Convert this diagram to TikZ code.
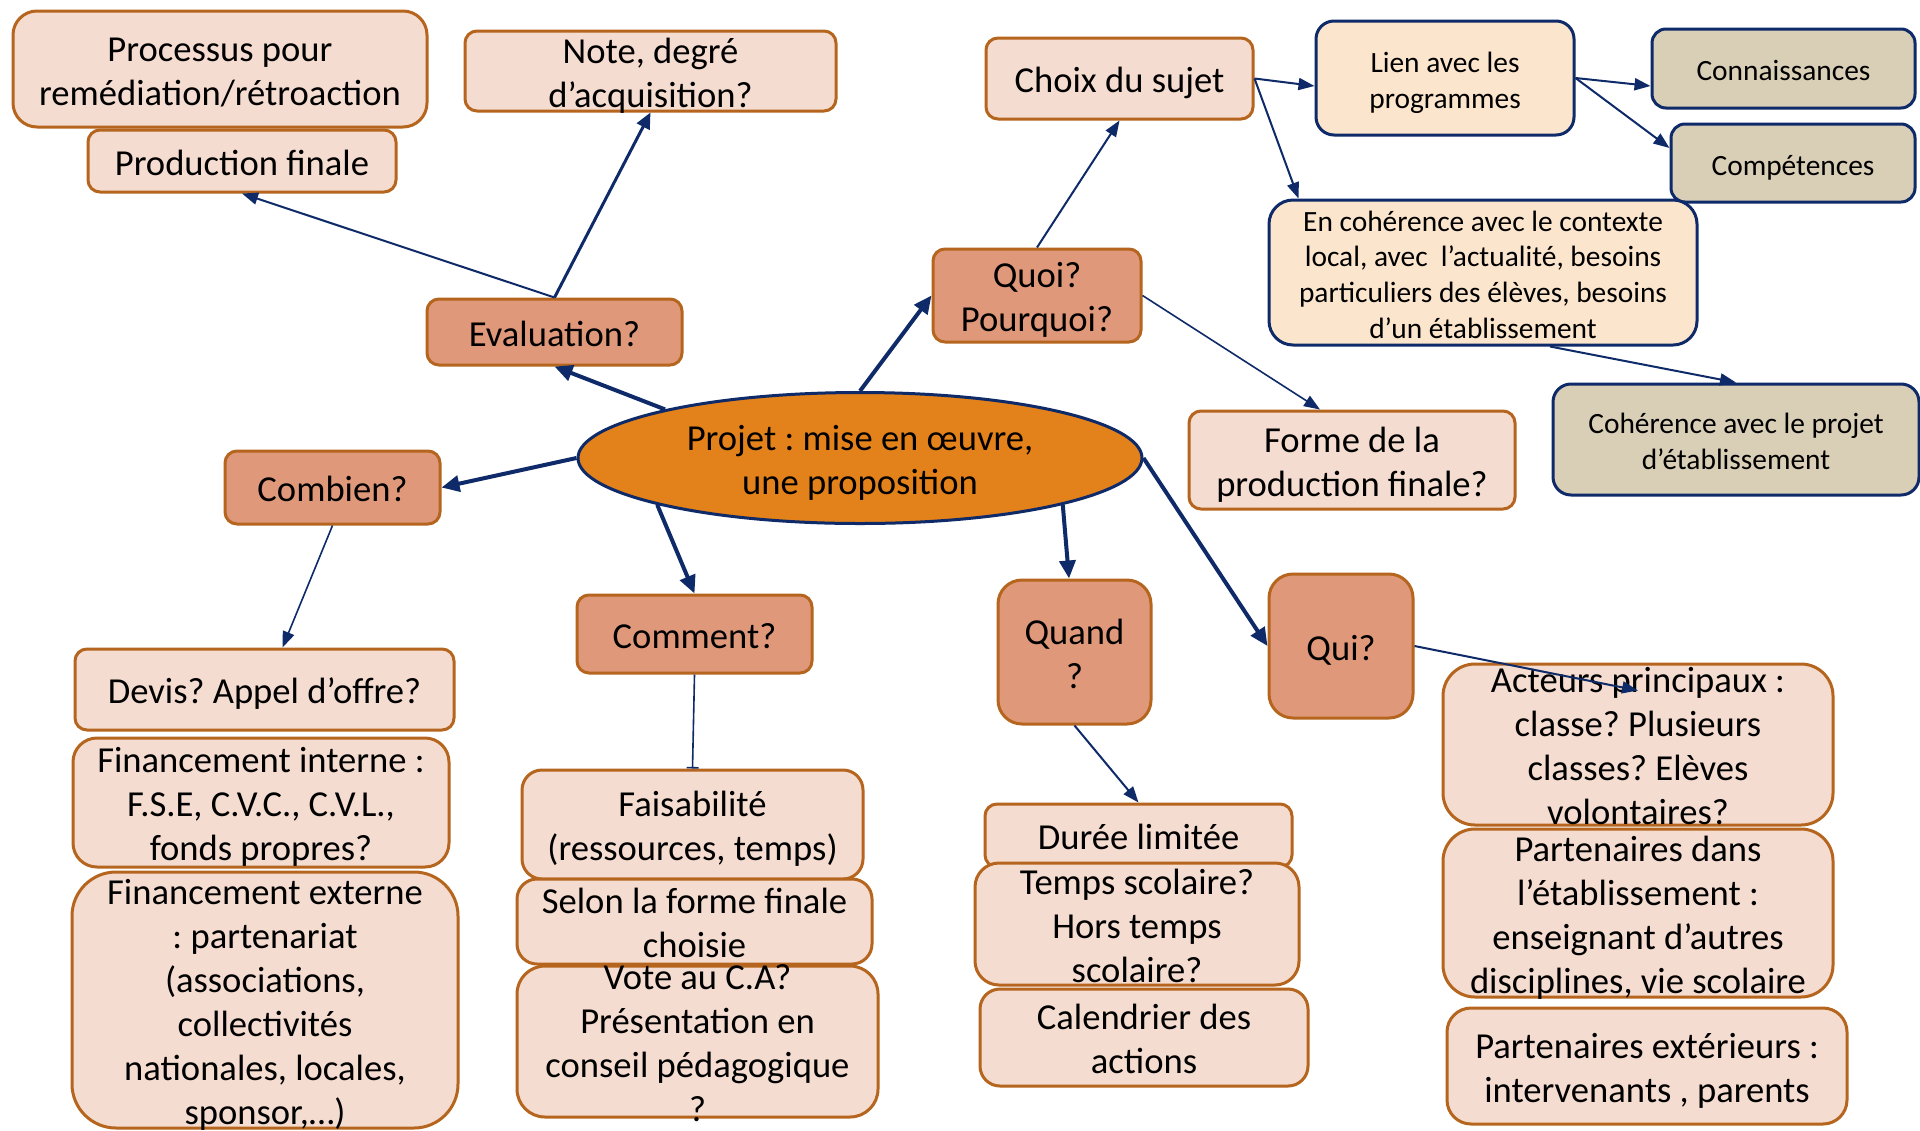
\documentclass[tikz,border=0pt]{standalone}
\usepackage{fontspec}
\setmainfont{Carlito}
\frenchspacing
\usetikzlibrary{arrows.meta,shapes.geometric}
\definecolor{pinkf}{HTML}{F5DCD0}
\definecolor{salmonf}{HTML}{E0987A}
\definecolor{brownb}{HTML}{B5651D}
\definecolor{peachf}{HTML}{FBE5CD}
\definecolor{tanf}{HTML}{D9CEB6}
\definecolor{navyb}{HTML}{0E2A68}
\definecolor{orangef}{HTML}{E3811A}
\newcommand\bigf{\fontsize{18.3}{22}\selectfont}
\newcommand\smallf{\fontsize{14.7}{17.8}\selectfont}
\newcommand\ntxt[1]{\smash{\raisebox{\dimexpr-0.25em-2.5pt\relax}{\begin{tabular}{@{}c@{}}#1\end{tabular}}}}
\tikzset{
  lpink/.style={draw=brownb, line width=1.5pt, fill=pinkf, rounded corners=6pt, inner sep=0pt, font=\bigf},
  salm/.style={lpink, fill=salmonf},
  nbox/.style={draw=navyb, line width=1.5pt, fill=peachf, rounded corners=9pt, inner sep=0pt, font=\smallf},
  tbox/.style={nbox, fill=tanf, rounded corners=7pt},
  ar/.style={draw=navyb, line width=1pt, -{Triangle[length=8pt,width=6pt]}},
  thk/.style={draw=navyb, line width=2pt, -{Triangle[length=9pt,width=8pt]}}
}
\begin{document}
\begin{tikzpicture}[x=0.5pt,y=-0.5pt]
\fill[white] (0,0) rectangle (1920,1130);
\useasboundingbox (0,0) rectangle (1920,1130);
% left top
\node[lpink, rounded corners=12pt, minimum width=207pt, minimum height=58pt] (proc) at (220,69) {\ntxt{Processus pour\\remédiation/rétroaction}};
\node[lpink, minimum width=154pt, minimum height=31pt] (prodfin) at (242,161) {\ntxt{Production finale}};
\node[lpink, minimum width=185.5pt, minimum height=40pt] (note) at (650.5,71) {\ntxt{Note, degré\\d’acquisition?}};
\node[salm, minimum width=127.5pt, minimum height=33pt] (eval) at (554.5,332) {\ntxt{Evaluation?}};
% top right
\node[lpink, minimum width=133.5pt, minimum height=40.5pt] (choix) at (1119.5,78.5) {\ntxt{Choix du sujet}};
\node[nbox, minimum width=129pt, minimum height=57pt] (lien) at (1445,78) {\ntxt{Lien avec les\\programmes}};
\node[tbox, minimum width=131.5pt, minimum height=39.5pt] (conn) at (1783.5,68.5) {\ntxt{Connaissances}};
\node[tbox, minimum width=122pt, minimum height=39pt] (comp) at (1793,163) {\ntxt{Compétences}};
\node[nbox, rounded corners=12pt, minimum width=214pt, minimum height=72.5pt] (coher) at (1483,272.5) {\ntxt{En cohérence avec le contexte\\local, avec\ \ l’actualité, besoins\\particuliers des élèves, besoins\\d’un établissement}};
\node[salm, minimum width=104pt, minimum height=46.5pt] (quoi) at (1037,295.5) {\ntxt{Quoi?\\Pourquoi?}};
\node[lpink, minimum width=163pt, minimum height=49pt] (forme) at (1352,460) {\ntxt{Forme de la\\production finale?}};
\node[tbox, rounded corners=9pt, minimum width=183pt, minimum height=55.5pt] (cohproj) at (1736,439.5) {\ntxt{Cohérence avec le projet\\d’établissement}};
% centre
\node[ellipse, draw=navyb, line width=1.5pt, fill=orangef, inner sep=0pt, font=\bigf, minimum width=282pt, minimum height=65.5pt] (ell) at (860,458) {\ntxt{Projet : mise en œuvre,\\une proposition}};
% second level
\node[salm, minimum width=107.5pt, minimum height=36.5pt] (combien) at (332.5,487.5) {\ntxt{Combien?}};
\node[salm, minimum width=117.5pt, minimum height=39pt] (comment) at (694.5,634) {\ntxt{Comment?}};
\node[salm, rounded corners=12pt, minimum width=76.5pt, minimum height=72pt] (quand) at (1074.5,652) {\ntxt{Quand\\?}};
\node[salm, rounded corners=12pt, minimum width=72pt, minimum height=72pt] (qui) at (1341,646) {\ntxt{Qui?}};
% bottom left
\node[lpink, minimum width=189.5pt, minimum height=40.5pt] (devis) at (264.5,689.5) {\ntxt{Devis? Appel d’offre?}};
\node[lpink, rounded corners=12pt, minimum width=188pt, minimum height=64.5pt] (finint) at (261,802.5) {\ntxt{Financement interne :\\F.S.E, C.V.C., C.V.L.,\\fonds propres?}};
\node[lpink, rounded corners=22pt, minimum width=193pt, minimum height=128pt] (finext) at (265,1000) {\ntxt{Financement externe\\: partenariat\\(associations,\\collectivités\\nationales, locales,\\sponsor,…)}};
% bottom middle
\node[lpink, rounded corners=10pt, minimum width=170.5pt, minimum height=54.5pt] (faisab) at (692.5,824.5) {\ntxt{Faisabilité\\(ressources, temps)}};
\node[lpink, rounded corners=10pt, minimum width=177.5pt, minimum height=42.5pt] (selon) at (694.5,921.5) {\ntxt{Selon la forme finale\\choisie}};
\node[lpink, rounded corners=14pt, minimum width=180.5pt, minimum height=75.5pt] (vote) at (697.5,1041.5) {\ntxt{Vote au C.A?\\Présentation en\\conseil pédagogique\\?}};
% bottom quand
\node[lpink, minimum width=153.5pt, minimum height=31.5pt] (duree) at (1138.5,835.5) {\ntxt{Durée limitée}};
\node[lpink, rounded corners=12pt, minimum width=162pt, minimum height=61pt] (temps) at (1137,924) {\ntxt{Temps scolaire?\\Hors temps\\scolaire?}};
\node[lpink, rounded corners=10pt, minimum width=164pt, minimum height=48.5pt] (calend) at (1144,1037.5) {\ntxt{Calendrier des\\actions}};
% bottom right
\node[lpink, rounded corners=16pt, minimum width=195pt, minimum height=80.5pt] (acteurs) at (1638,744.5) {\ntxt{Acteurs principaux :\\classe? Plusieurs\\classes? Elèves\\volontaires?}};
\node[lpink, rounded corners=16pt, minimum width=195pt, minimum height=84pt] (partdans) at (1638,913) {\ntxt{Partenaires dans\\l’établissement :\\enseignant d’autres\\disciplines, vie scolaire}};
\node[lpink, rounded corners=12pt, minimum width=200pt, minimum height=58pt] (partext) at (1647,1066) {\ntxt{Partenaires extérieurs :\\intervenants , parents}};
% connectors
\draw[thk] (ell.166) -- (eval.south);
\draw[ar] (eval.north) -- (prodfin.south);
\draw[ar, line width=1.5pt, -{Triangle[length=8pt,width=7pt]}] (eval.north) -- (note.south);
\draw[thk] (ell.north) -- (quoi.west);
\draw[ar] (quoi.north) -- (choix.south);
\draw[ar, line width=0.8pt] (quoi.east) -- ([xshift=-16pt]forme.north);
\draw[ar] (choix.east) -- ([yshift=-4pt]lien.west);
\draw[ar] (choix.east) -- ([xshift=15.5pt]coher.north west);
\draw[ar] (lien.east) -- ([yshift=-8.75pt]conn.west);
\draw[ar] (lien.east) -- ([yshift=7.5pt]comp.west);
\draw[ar] ([xshift=33.5pt]coher.south) -- (cohproj.north);
\draw[thk] (ell.west) -- (combien.east);
\draw[ar, line width=0.8pt] (combien.south) -- ([xshift=9pt]devis.north);
\draw[thk] (ell.193) -- (comment.north);
\draw[draw=navyb, line width=0.8pt, -{Bar[width=6pt]}] (comment.south) -- (faisab.north);
\draw[thk] (ell.-13) -- ([xshift=-2.75pt]quand.north);
\draw[ar] (quand.south) -- (duree.north);
\draw[thk] (ell.east) -- (qui.west);
\draw[ar] (qui.east) -- ([yshift=-14pt]acteurs.north);
\end{tikzpicture}
\end{document}
